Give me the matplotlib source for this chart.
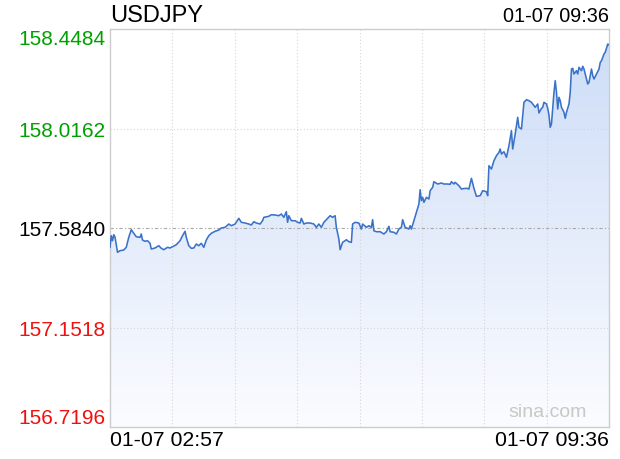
import numpy as np
import matplotlib
matplotlib.use("Agg")
import matplotlib.pyplot as plt
from matplotlib.colors import LinearSegmentedColormap

plt.rcParams['font.family'] = ['Liberation Sans', 'DejaVu Sans']

symbol = "USDJPY"
start_label = "01-07 02:57"
end_label = "01-07 09:36"
watermark = "sina.com"

# minutes after 02:57
minutes = [0, 1, 2, 3, 4, 6, 8, 11, 13, 15, 17, 19, 21, 24, 25, 26, 28, 30, 32, 33,
           36, 39, 41, 43, 46, 48, 51, 53, 56, 58, 60, 61, 63, 65, 67, 69, 71, 73, 75, 77,
           79, 81, 84, 87, 89, 92, 95, 97, 100, 103, 105, 108, 111, 113, 115, 117, 120, 122, 123, 127,
           129, 132, 135, 137, 139, 141, 142, 143, 145, 148, 150, 152, 153, 155, 157, 160, 163, 165, 167, 169,
           171, 173, 176, 178, 180, 181, 183, 184, 186, 188, 189, 191, 193, 194, 196, 199, 201, 202, 205, 207,
           209, 210, 211, 213, 216, 219, 221, 223, 224, 227, 229, 231, 233, 234, 236, 239, 240, 241, 243, 245,
           247, 248, 249, 250, 251, 253, 255, 256, 258, 259, 262, 265, 267, 270, 272, 273, 275, 276, 279, 281,
           283, 285, 287, 289, 291, 293, 296, 298, 301, 302, 303, 305, 307, 309, 311, 312, 313, 315, 317, 319,
           321, 322, 324, 326, 327, 329, 331, 333, 335, 337, 339, 340, 342, 343, 345, 346, 347, 349, 350, 351,
           352, 353, 355, 356, 357, 358, 359, 360, 361, 363, 364, 365, 367, 368, 369, 370, 371, 373, 374, 375,
           377, 378, 379, 381, 382, 383, 385, 386, 387, 389, 391, 392, 393, 395, 396, 398, 399]

prices = [157.5001, 157.5505, 157.5288, 157.5548, 157.5448, 157.4784, 157.4853, 157.4884, 157.5001, 157.5435,
          157.5766, 157.5609, 157.5462, 157.5435, 157.5579, 157.5318, 157.5262, 157.5288, 157.5175, 157.4927,
          157.4971, 157.5071, 157.4958, 157.4897, 157.5001, 157.4971, 157.5058, 157.5114, 157.5288, 157.5505,
          157.5696, 157.5435, 157.5071, 157.4958, 157.4971, 157.5144, 157.5071, 157.5175, 157.5001, 157.5318,
          157.5505, 157.5609, 157.5696, 157.5753, 157.5839, 157.5870, 157.6013, 157.5939, 157.6013, 157.6261,
          157.6087, 157.6057, 157.6013, 157.5970, 157.6113, 157.6057, 157.6013, 157.6157, 157.6304, 157.6348,
          157.6417, 157.6404, 157.6374, 157.6448, 157.6304, 157.6548, 157.6087, 157.6374, 157.6157, 157.6157,
          157.6087, 157.6057, 157.6261, 157.6013, 157.6057, 157.6057, 157.6013, 157.5870, 157.6013, 157.5870,
          157.6087, 157.6200, 157.6374, 157.6304, 157.6374, 157.5870, 157.5362, 157.4897, 157.5218, 157.5288,
          157.5331, 157.5244, 157.5218, 157.6013, 157.6087, 157.6057, 157.5796, 157.6013, 157.5870, 157.5939,
          157.5870, 157.6200, 157.5722, 157.5679, 157.5679, 157.5579, 157.5679, 157.5913, 157.5679, 157.5653,
          157.5579, 157.5796, 157.5870, 157.6200, 157.5870, 157.5796, 157.5939, 157.5796, 157.6157, 157.6521,
          157.6882, 157.7503, 157.7025, 157.7173, 157.6956, 157.7173, 157.7099, 157.7460, 157.7607, 157.7851,
          157.7751, 157.7794, 157.7751, 157.7751, 157.7738, 157.7851, 157.7751, 157.7825, 157.7677, 157.7534,
          157.7555, 157.7564, 157.7534, 157.7998, 157.7564, 157.7217, 157.7243, 157.7460, 157.7416, 157.7243,
          157.8546, 157.8402, 157.8763, 157.8980, 157.9128, 157.9271, 157.9054, 157.9154, 157.8911, 157.9415,
          158.0066, 157.9271, 157.9923, 158.0648, 158.0214, 158.0140, 158.1300, 158.1413, 158.1369, 158.1300,
          158.1152, 158.1083, 158.1226, 158.0835, 158.1039, 158.1083, 158.1300, 158.1226, 158.1039, 158.0748,
          158.0214, 158.0357, 158.1734, 158.2238, 158.1734, 158.1009, 158.1517, 158.1369, 158.1083, 158.0865,
          158.0605, 158.0865, 158.1226, 158.1734, 158.2746, 158.2777, 158.2529, 158.2673, 158.2529, 158.2820,
          158.2673, 158.2864, 158.2746, 158.2312, 158.2095, 158.2169, 158.2746, 158.2455, 158.2312, 158.2529,
          158.2746, 158.3037, 158.3107, 158.3398, 158.3472, 158.3832, 158.3789]

y_ticks = [156.7196, 157.1518, 157.5840, 158.0162, 158.4484]
tick_colors = ['#f01010', '#f01010', '#000000', '#00a000', '#00a000']
prev_close = 157.5840
span = 399

fig = plt.figure(figsize=(6.2, 4.6), dpi=100)
ax = fig.add_axes([110 / 620, 32 / 460, 499 / 620, 398 / 460])
ax.set_xlim(0, span)
ax.set_ylim(y_ticks[0], y_ticks[-1])

# grid
for xv in np.linspace(0, span, 9)[1:-1]:
    ax.axvline(xv, color='#d6d6d6', lw=0.8, ls=(0, (1, 2)), zorder=1)
for yv in y_ticks[1:-1]:
    if yv == prev_close:
        ax.axhline(yv, color='#a8a8a8', lw=0.8, ls=(0, (3, 2, 1, 2)), zorder=1)
    else:
        ax.axhline(yv, color='#d6d6d6', lw=0.8, ls=(0, (1, 2)), zorder=1)

# gradient area under the line
cmap = LinearSegmentedColormap.from_list('fill', ['#fbfcff', '#ccdcf7'])
grad = np.linspace(0, 1, 256).reshape(-1, 1)
im = ax.imshow(grad, cmap=cmap, origin='lower', aspect='auto',
               extent=[0, span, y_ticks[0], y_ticks[-1]], zorder=0.5)
area = ax.fill_between(minutes, prices, y_ticks[0], color='none', lw=0)
im.set_clip_path(area.get_paths()[0], transform=ax.transData)

ax.plot(minutes, prices, color='#3b72c8', lw=1.15, zorder=3)

for s in ax.spines.values():
    s.set_color('#cccccc')
    s.set_linewidth(1)

ax.set_xticks([])
ax.set_yticks(y_ticks)
ax.set_yticklabels(['%.4f' % v for v in y_ticks], fontsize=15)
ax.tick_params(axis='y', length=0, pad=3)
labels = ax.get_yticklabels()
for lab, c in zip(labels, tick_colors):
    lab.set_color(c)
labels[0].set_va('bottom')
labels[-1].set_va('top')

fig.text(110 / 620, 1 - 16 / 460, symbol, fontsize=17, ha='left', va='center')
fig.text(609 / 620, 1 - 17 / 460, end_label, fontsize=14.3, ha='right', va='center')
fig.text(110 / 620, 1 - 441 / 460, start_label, fontsize=15.3, ha='left', va='center')
fig.text(609 / 620, 1 - 441 / 460, end_label, fontsize=15.3, ha='right', va='center')
ax.text(0.955, 0.04, watermark, transform=ax.transAxes, fontsize=14, color='#c8c8c8',
        ha='right', va='center', zorder=4)

fig.savefig('out.png', dpi=100)
